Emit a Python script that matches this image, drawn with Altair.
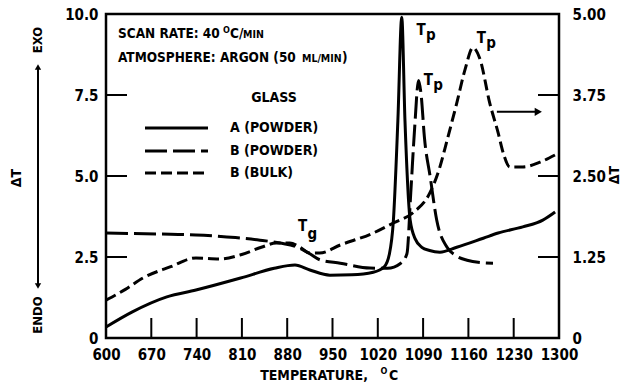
import altair as alt
import pandas as pd

FONT = "DejaVu Sans Condensed"

# Glass A, powder (left ΔT scale)
a_temp = [600, 640, 694, 739, 808, 860, 892, 915, 946, 980, 1013, 1030, 1038, 1044,
          1051, 1057, 1062, 1070, 1078, 1088, 1100, 1116, 1142, 1183, 1206, 1244, 1275, 1294]
a_dt = [0.34, 0.8, 1.27, 1.48, 1.85, 2.15, 2.25, 2.1, 1.94, 1.95, 2.03, 2.2, 2.6, 3.6,
        6.7, 9.9, 6.7, 3.64, 3.05, 2.8, 2.7, 2.65, 2.8, 3.08, 3.24, 3.43, 3.64, 3.89]

# Glass B, powder (left ΔT scale)
bp_temp = [600, 700, 739, 800, 838, 869, 895, 915, 931, 962, 1008, 1035, 1055, 1065,
           1071, 1077, 1083, 1087, 1092, 1101, 1111, 1127, 1140, 1158, 1178, 1198]
bp_dt = [3.24, 3.2, 3.18, 3.1, 3.02, 2.93, 2.81, 2.6, 2.41, 2.31, 2.16, 2.15, 2.3, 2.6,
         4.5, 6.5, 7.95, 7.5, 6.2, 4.97, 3.64, 2.8, 2.55, 2.4, 2.33, 2.31]

# Glass B, bulk (right ΔT scale)
bb_temp = [600, 630, 657, 700, 739, 776, 807, 840, 863, 884, 900, 915, 930, 962, 1013,
           1044, 1074, 1101, 1116, 1127, 1142, 1155, 1167, 1178, 1193, 1206, 1214, 1224,
           1244, 1271, 1294]
bb_dt = [0.585, 0.75, 0.925, 1.1, 1.235, 1.22, 1.28, 1.4, 1.465, 1.465, 1.4, 1.31, 1.31,
         1.435, 1.62, 1.775, 1.93, 2.25, 2.64, 3.05, 3.625, 4.15, 4.48, 4.3, 3.625, 3.165,
         2.85, 2.64, 2.64, 2.715, 2.825]

# Axis tick values
x_ticks = [600, 670, 740, 810, 880, 950, 1020, 1090, 1160, 1230, 1300]
left_ticks = [0, 2.5, 5.0, 7.5, 10.0]
right_ticks = [0, 1.25, 2.5, 3.75, 5.0]

# Arrow pointing the bulk curve to the right-hand scale
arrow_temp = [1204, 1266]
arrow_dt = 3.49

# Peak / transition labels: (text, temperature, ΔT on left scale)
ann_text = ["T", "p", "T", "p", "T", "p", "T", "g"]
ann_temp = [1087, 1102, 1098, 1113, 1180, 1195, 904, 919]
ann_dt = [9.51, 9.36, 7.96, 7.8, 9.26, 9.1, 3.46, 3.22]

# Legend entries
legend_labels = ["A (POWDER)", "B (POWDER)", "B (BULK)"]
DASH_A = [1, 0]
DASH_BP = [22, 6]
DASH_BB = [11, 5]
legend_dashes = [DASH_A, DASH_BP, DASH_BB]

LW = 3

xscale = alt.Scale(domain=[600, 1300], nice=False, zero=False)
yl_scale = alt.Scale(domain=[0, 10], nice=False)
yr_scale = alt.Scale(domain=[0, 5], nice=False)

x_axis = alt.Axis(values=x_ticks, format="d", tickSize=0, domain=False, grid=False, title=None,
                  labelFont=FONT, labelFontSize=15, labelFontWeight="bold",
                  labelColor="black", labelPadding=9, labelOverlap=False, labelFlush=False)
yl_axis = alt.Axis(values=left_ticks, tickSize=0, domain=False, grid=False, title=None,
                   labelExpr="datum.value == 0 ? '0' : format(datum.value, '.1f')",
                   labelFont=FONT, labelFontSize=15, labelFontWeight="bold",
                   labelColor="black", labelPadding=8, labelOverlap=False, labelFlush=False)
yr_axis = alt.Axis(values=right_ticks, orient="right", tickSize=0, domain=False, grid=False,
                   title=None,
                   labelExpr="datum.value == 0 ? '0' : format(datum.value, '.2f')",
                   labelFont=FONT, labelFontSize=15, labelFontWeight="bold",
                   labelColor="black", labelPadding=13, labelOverlap=False, labelFlush=False)

X = lambda: alt.X("temp:Q", scale=xscale, axis=x_axis)
YL = lambda: alt.Y("dt:Q", scale=yl_scale, axis=yl_axis)
YR = lambda: alt.Y("dt2:Q", scale=yr_scale, axis=yr_axis)

df_a = pd.DataFrame({"temp": a_temp, "dt": a_dt})
df_bp = pd.DataFrame({"temp": bp_temp, "dt": bp_dt})
df_bb = pd.DataFrame({"temp": bb_temp, "dt2": bb_dt})

line_a = alt.Chart(df_a).mark_line(color="black", strokeWidth=LW, interpolate="monotone").encode(x=X(), y=YL())
line_bp = alt.Chart(df_bp).mark_line(color="black", strokeWidth=LW, interpolate="monotone",
                                     strokeDash=DASH_BP).encode(x=X(), y=YL())
line_bb = alt.Chart(df_bb).mark_line(color="black", strokeWidth=LW, interpolate="monotone",
                                     strokeDash=DASH_BB).encode(x=X(), y=YR())

# Inward tick marks
xt = alt.Chart(pd.DataFrame({"temp": x_ticks[1:-1]})).mark_rule(color="black", strokeWidth=2).encode(
    x=X(), y=alt.value(304), y2=alt.value(324))
ylt = alt.Chart(pd.DataFrame({"dt": left_ticks[1:-1]})).mark_rule(color="black", strokeWidth=2).encode(
    y=YL(), x=alt.value(0), x2=alt.value(21))
yrt = alt.Chart(pd.DataFrame({"dt2": right_ticks[1:-1]})).mark_rule(color="black", strokeWidth=2).encode(
    y=YR(), x=alt.value(432), x2=alt.value(453))

# Arrow towards the right-hand axis
df_arrow = pd.DataFrame({"temp": [arrow_temp[0]], "temp2": [arrow_temp[1]], "dt2": [arrow_dt]})
arrow_shaft = alt.Chart(df_arrow).mark_rule(color="black", strokeWidth=2).encode(
    x=X(), x2="temp2:Q", y=YR())
arrow_head = alt.Chart(pd.DataFrame({"temp": [arrow_temp[1] + 2], "dt2": [arrow_dt]})).mark_point(
    shape="triangle-right", filled=True, color="black", size=70, opacity=1).encode(x=X(), y=YR())

df_ann = pd.DataFrame({"label": ann_text, "temp": ann_temp, "dt": ann_dt})
ann = alt.Chart(df_ann).mark_text(font=FONT, fontSize=15, fontWeight="bold", color="black").encode(
    x=X(), y=YL(), text="label:N")

one = pd.DataFrame({"k": [0]})


def txt(s, x, y, size=14, align="left", angle=0, weight="bold", baseline="middle"):
    return alt.Chart(one).mark_text(text=s, font=FONT, fontSize=size, fontWeight=weight,
                                    align=align, baseline=baseline, angle=angle,
                                    color="black").encode(x=alt.value(x), y=alt.value(y))


texts = [
    txt("SCAN RATE: 40", 12, 24, 13.5, baseline="alphabetic"),
    txt("O", 117, 19, 9, baseline="alphabetic"),
    txt("C/", 124, 24, 13.5, baseline="alphabetic"),
    txt("MIN", 137, 24, 10.5, baseline="alphabetic"),
    txt("ATMOSPHERE: ARGON (50", 12, 48, 13.5, baseline="alphabetic"),
    txt("ML/MIN", 196, 48, 10.5, baseline="alphabetic"),
    txt(")", 236, 48, 13.5, baseline="alphabetic"),
    txt("GLASS", 168, 84, 14, align="center"),
    txt("TEMPERATURE,", 262, 362, 14, align="right"),
    txt("O", 278, 357, 9, align="center"),
    txt("C", 283, 362, 14),
    txt("ΔT", -89, 164, 14, align="center", angle=270),
    txt("EXO", -68, 26, 13, align="center", angle=270),
    txt("ENDO", -68, 301, 13, align="center", angle=270),
    txt("ΔT", 509, 161, 14, align="center", angle=270),
]

# Legend: sample lines and labels
legend_rows_y = [114, 137, 159]
legend = []
for lab, dash, yy in zip(legend_labels, legend_dashes, legend_rows_y):
    legend.append(alt.Chart(one).mark_rule(color="black", strokeWidth=LW, strokeDash=dash).encode(
        x=alt.value(39), x2=alt.value(102), y=alt.value(yy)))
    legend.append(txt(lab, 124, yy, 14))

# EXO / ENDO double arrow
exo_shaft = alt.Chart(one).mark_rule(color="black", strokeWidth=2).encode(
    x=alt.value(-68), y=alt.value(52), y2=alt.value(273))
exo_up = alt.Chart(one).mark_point(shape="triangle-up", filled=True, color="black", size=40,
                                   opacity=1).encode(x=alt.value(-68), y=alt.value(53))
endo_down = alt.Chart(one).mark_point(shape="triangle-down", filled=True, color="black", size=40,
                                      opacity=1).encode(x=alt.value(-68), y=alt.value(272))

left = alt.layer(line_a, line_bp, xt, ylt, ann, exo_shaft, exo_up, endo_down, *legend, *texts)
right = alt.layer(line_bb, yrt, arrow_shaft, arrow_head)

chart = alt.layer(left, right).resolve_scale(y="independent").properties(
    width=453, height=324,
    padding={"left": 106, "top": 14, "right": 65, "bottom": 50},
    autosize=alt.AutoSizeParams(type="none"),
    background="white",
).configure_view(stroke="black", strokeWidth=2.5)

chart.save("out.html", embed_options={"renderer": "svg", "actions": False})
